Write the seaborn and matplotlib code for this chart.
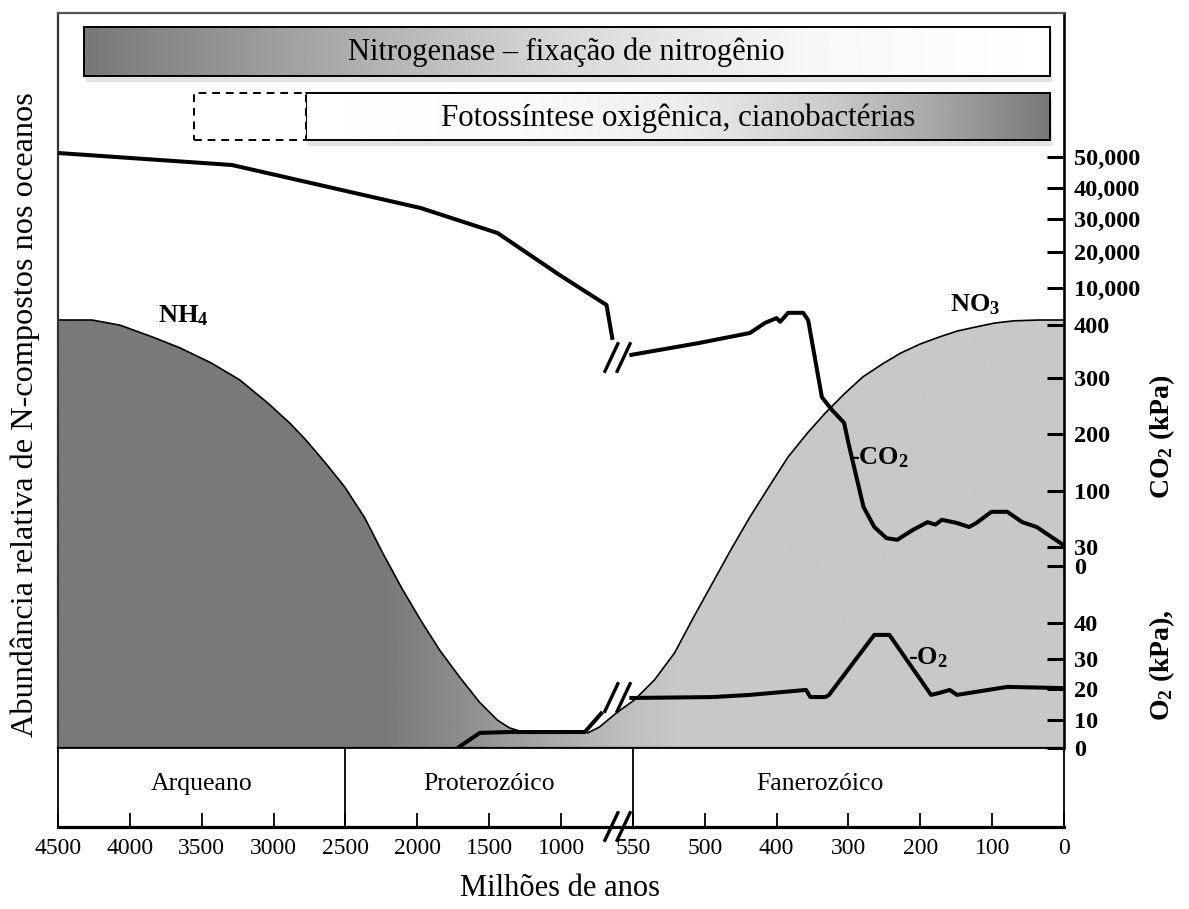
import numpy as np
import matplotlib
matplotlib.use("Agg")
import matplotlib.pyplot as plt
import seaborn as sns
from matplotlib.patches import Rectangle
from matplotlib.path import Path

# ---------------- data ----------------
age_ticks = [4500, 4000, 3500, 3000, 2500, 2000, 1500, 1000, 550, 500, 400, 300, 200, 100, 0]
age_tick_labels = [str(a) for a in age_ticks]

eras = ["Arqueano", "Proterozóico", "Fanerozóico"]
era_bounds = [4500, 2500, 550, 0]
era_label_ages = [3500, 1500, 340]

# relative abundance of N compounds (0..1)
nh4_age = [4500, 4264, 4069, 3840, 3652, 3436, 3235, 3040, 2887, 2776, 2644, 2505, 2366,
           2241, 2109, 1977, 1845, 1706, 1567, 1442, 1358, 1254, 1115]
nh4_abund = [1.00, 1.00, 0.988, 0.960, 0.935, 0.900, 0.860, 0.806, 0.759, 0.720, 0.668, 0.610,
             0.538, 0.456, 0.374, 0.299, 0.229, 0.166, 0.107, 0.065, 0.047, 0.036, 0.035]

no3_age = [834, 759, 653, 549, 535, 521, 508, 489, 463, 437, 410, 384, 357, 332, 306, 280,
           253, 227, 200, 174, 149, 122, 96, 70, 35, 0]
no3_abund = [0.035, 0.049, 0.082, 0.112, 0.159, 0.222, 0.304, 0.386, 0.465, 0.540, 0.612,
             0.680, 0.736, 0.783, 0.827, 0.867, 0.897, 0.923, 0.944, 0.960, 0.974, 0.984,
             0.993, 0.998, 1.0, 1.0]

# CO2 (kPa)
co2_ticks = [0, 30, 100, 200, 300, 400, 10000, 20000, 30000, 40000, 50000]
co2_tick_labels = ["0", "30", "100", "200", "300", "400",
                   "10,000", "20,000", "30,000", "40,000", "50,000"]
co2_early_age = [4500, 3290, 1977, 1442, 1010, 715, 677]
co2_early = [51290, 47420, 33550, 25760, 13610, 5590, 372]
co2_late_age = [572, 504, 437, 416, 400, 395, 384, 363, 356, 337, 323, 306, 300, 279,
                264, 247, 232, 211, 190, 179, 170, 149, 132, 122, 101, 79, 58, 38, 0]
co2_late = [343, 366, 385, 404, 413, 406, 423, 423, 409, 266, 243, 220, 184, 80,
            55, 41, 39, 51, 61, 58, 64, 60, 55, 60, 74, 74, 61, 55, 32]

# O2 (kPa)
o2_ticks = [0, 10, 20, 30, 40]
o2_tick_labels = ["0", "10", "20", "30", "40"]
o2_early_age = [1720, 1565, 1358, 851, 740]
o2_early = [0, 5.4, 5.7, 5.7, 12.6]
o2_late_age = [572, 489, 437, 359, 353, 332, 327, 264, 243, 185, 174, 159, 149, 79, 0]
o2_late = [17.1, 17.4, 18.1, 19.7, 17.4, 17.4, 18.1, 36.7, 36.7, 18.1, 18.7, 19.7, 18.1, 20.7, 20.3]

# time spans of the top bars (Ma)
nitrogenase_span = (4320, 20)
photosynthesis_span = (2776, 20)
photosynthesis_uncertain_span = (3555, 2776)

break_age = 650
co2_break_value = 340
o2_break_value = 17.4

# ---------------- layout / geometry (pixels of the 1189x909 layout) ----------------
W, H = 1189, 909
AX_L, AX_R, AX_T, AX_B = 58, 1064, 13, 748
ERA_B = 827
PLOT_H = AX_B - AX_T
ABUND_ONE_H = 428
co2_tick_h = [182, 201, 257, 314, 370, 423, 460, 496, 529, 560, 591]
o2_tick_h = [0, 28, 59, 89, 125]


def piecewise(xp, fp):
    xp = np.asarray(xp, float)
    fp = np.asarray(fp, float)
    o = np.argsort(xp)
    xp, fp = xp[o], fp[o]
    s0 = (fp[1] - fp[0]) / (xp[1] - xp[0])
    s1 = (fp[-1] - fp[-2]) / (xp[-1] - xp[-2])

    def f(x):
        x = np.asarray(x, dtype=float)
        y = np.interp(x, xp, fp)
        y = np.where(x < xp[0], fp[0] + (x - xp[0]) * s0, y)
        y = np.where(x > xp[-1], fp[-1] + (x - xp[-1]) * s1, y)
        return y
    return f


# increasing position with age (axis is then inverted: 4500 on the left)
u_pos = np.arange(len(age_ticks))[::-1].astype(float)
x_fwd = piecewise(age_ticks, u_pos)
x_inv = piecewise(u_pos, age_ticks)

sns.set_theme(style="white")
plt.rcParams["font.family"] = ["Liberation Serif", "DejaVu Serif"]
plt.rcParams["mathtext.fontset"] = "custom"
plt.rcParams["mathtext.rm"] = "Liberation Serif"
plt.rcParams["mathtext.bf"] = "Liberation Serif:bold"
plt.rcParams["mathtext.it"] = "Liberation Serif:italic"
plt.rcParams["text.color"] = "black"

fig = plt.figure(figsize=(W / 100, H / 100), dpi=100)
fig.patch.set_facecolor("white")


def fx(px):
    return px / W


def fy(py):
    return 1 - py / H


ax = fig.add_axes([fx(AX_L), fy(AX_B), (AX_R - AX_L) / W, PLOT_H / H])
ax.set_xscale("function", functions=(x_fwd, x_inv))
ax.set_facecolor("white")

ax_era = fig.add_axes([fx(AX_L), fy(ERA_B), (AX_R - AX_L) / W, (ERA_B - AX_B) / H], sharex=ax)


def hgrad(sx, sv, n=600):
    xs = np.linspace(0, 1, n)
    return np.interp(xs, sx, sv)[np.newaxis, :]


# ---- N-compound envelope with horizontal gradient ----
env_x = [4500] + nh4_age + no3_age + [0]
env_y = [0] + nh4_abund + no3_abund + [0]
env_patch = ax.fill(env_x, env_y, facecolor="none", edgecolor="none")[0]
im = ax.imshow(hgrad([0, 0.325, 0.38, 0.439, 0.499, 0.559, 0.618, 1],
                     [0.478, 0.478, 0.53, 0.60, 0.67, 0.74, 0.785, 0.785]),
               cmap="gray", vmin=0, vmax=1, extent=(0, 1, 0, 1),
               transform=ax.transAxes, aspect="auto", zorder=0.5,
               interpolation="bilinear")
im.set_clip_path(env_patch)

sns.lineplot(x=nh4_age, y=nh4_abund, ax=ax, color="black", lw=1.2, sort=False, estimator=None,
             solid_joinstyle="round")
sns.lineplot(x=no3_age, y=no3_abund, ax=ax, color="black", lw=1.2, sort=False, estimator=None,
             solid_joinstyle="round")

ax.text(3630, 1.01, r"$\mathbf{NH_4}$", ha="center", va="center", fontsize=19)
ax.text(124, 1.035, r"$\mathbf{NO_3}$", ha="center", va="center", fontsize=19)


# ---- top bars ----
def frac(age):
    return float((x_fwd(age) - x_fwd(4500)) / (x_fwd(0) - x_fwd(4500)))


def bar(span, y0, y1, stops_x, stops_v, dashed=False):
    x0, x1 = frac(span[0]), frac(span[1])
    if not dashed:
        ax.add_patch(Rectangle((x0 + 0.002, y0 - 0.008), x1 - x0, y1 - y0, transform=ax.transAxes,
                               facecolor="#e3e3e3", edgecolor="none", zorder=2.5))
        ax.imshow(hgrad(stops_x, stops_v), cmap="gray", vmin=0, vmax=1,
                  extent=(x0, x1, y0, y1), transform=ax.transAxes, aspect="auto",
                  zorder=3, interpolation="bilinear")
        ax.add_patch(Rectangle((x0, y0), x1 - x0, y1 - y0, transform=ax.transAxes,
                               facecolor="none", edgecolor="black", lw=1.4, zorder=3.5))
    else:
        ax.add_patch(Rectangle((x0, y0), x1 - x0, y1 - y0, transform=ax.transAxes,
                               facecolor="white", edgecolor="black", lw=1.4, ls=(0, (4, 3)),
                               zorder=3.5))
    return x0, x1


NY0, NY1 = (AX_B - 76) / PLOT_H, (AX_B - 27) / PLOT_H
PY0, PY1 = (AX_B - 140) / PLOT_H, (AX_B - 93) / PLOT_H
bar(nitrogenase_span, NY0, NY1, [0, 0.25, 0.5, 0.75, 1], [0.47, 0.66, 0.85, 0.97, 1.0])
bar(photosynthesis_span, PY0, PY1, [0, 0.3, 0.5, 0.7, 0.85, 1], [1.0, 0.98, 0.93, 0.8, 0.65, 0.47])
bar(photosynthesis_uncertain_span, PY0, PY1, None, None, dashed=True)
ax.text((566 - AX_L) / (AX_R - AX_L), (AX_B - 52) / PLOT_H, "Nitrogenase – fixação de nitrogênio",
        transform=ax.transAxes, ha="center", va="center", fontsize=22, zorder=5)
ax.text((678 - AX_L) / (AX_R - AX_L), (AX_B - 118) / PLOT_H, "Fotossíntese oxigênica, cianobactérias",
        transform=ax.transAxes, ha="center", va="center", fontsize=22.3, zorder=5)

# ---- gas axes ----
co2_fwd = piecewise(co2_ticks, co2_tick_h)
co2_inv = piecewise(co2_tick_h, co2_ticks)
co2b_fwd = piecewise(co2_ticks[:6], co2_tick_h[:6])
co2b_inv = piecewise(co2_tick_h[:6], co2_ticks[:6])
o2_fwd = piecewise(o2_ticks, o2_tick_h)
o2_inv = piecewise(o2_tick_h, o2_ticks)

ax_co2 = ax.twinx()
ax_co2b = ax.twinx()
ax_o2 = ax.twinx()
for a, (f, i) in zip([ax_co2, ax_co2b, ax_o2],
                     [(co2_fwd, co2_inv), (co2b_fwd, co2b_inv), (o2_fwd, o2_inv)]):
    a.set_yscale("function", functions=(f, i))
    for s in a.spines.values():
        s.set_visible(False)

lw_gas = 2.9
sns.lineplot(x=co2_early_age, y=co2_early, ax=ax_co2, color="black", lw=lw_gas,
             sort=False, estimator=None, solid_joinstyle="round", solid_capstyle="butt")
sns.lineplot(x=co2_late_age, y=co2_late, ax=ax_co2b, color="black", lw=lw_gas,
             sort=False, estimator=None, solid_joinstyle="round", solid_capstyle="butt")
sns.lineplot(x=o2_early_age, y=o2_early, ax=ax_o2, color="black", lw=lw_gas,
             sort=False, estimator=None, solid_joinstyle="round", solid_capstyle="butt")
sns.lineplot(x=o2_late_age, y=o2_late, ax=ax_o2, color="black", lw=lw_gas,
             sort=False, estimator=None, solid_joinstyle="round", solid_capstyle="butt")

break_path = Path([(-0.87, -1), (0.07, 1), (-0.07, -1), (0.87, 1)],
                  [Path.MOVETO, Path.LINETO, Path.MOVETO, Path.LINETO])
ax_co2b.plot([break_age], [co2_break_value], marker=break_path, ms=22, mew=2.4,
             mfc="none", mec="black", ls="none", clip_on=False, zorder=6)
ax_o2.plot([break_age], [o2_break_value], marker=break_path, ms=22, mew=2.4,
           mfc="none", mec="black", ls="none", clip_on=False, zorder=6)

ax_co2b.text(298, 158, r"-CO$_\mathbf{2}$", ha="left", va="center", fontsize=19, fontweight="bold")
ax_o2.text(217, 30.3, r"-O$_\mathbf{2}$", ha="left", va="center", fontsize=19, fontweight="bold")

ax_co2.set_yticks(co2_ticks, labels=co2_tick_labels, fontweight="bold", fontsize=17.5)
ax_o2.set_yticks(o2_ticks, labels=o2_tick_labels, fontweight="bold", fontsize=17.5)
for a in (ax_co2, ax_o2):
    a.tick_params(axis="y", which="major", right=True, left=False, labelright=True,
                  labelleft=False, direction="in", length=12, width=2.2, pad=7,
                  color="black", labelcolor="black")
    a.tick_params(axis="y", which="minor", right=False, left=False)
    a.set_ylabel("")
ax_co2b.tick_params(axis="y", which="both", right=False, left=False, labelright=False, labelleft=False)
ax_co2b.set_ylabel("")

ax_co2.set_ylim(float(co2_inv(0)), float(co2_inv(PLOT_H)))
ax_co2b.set_ylim(float(co2b_inv(0)), float(co2b_inv(PLOT_H)))
ax_o2.set_ylim(float(o2_inv(0)), float(o2_inv(PLOT_H)))

# ---- main axes frame ----
ax.tick_params(left=False, bottom=False, right=False, top=False,
               labelleft=False, labelbottom=False)
ax.set_xlabel("")
ax.set_ylabel("")
ax.spines["left"].set_color("#333333")
ax.spines["left"].set_linewidth(1.6)
ax.spines["top"].set_color("#555555")
ax.spines["top"].set_linewidth(1.6)
ax.spines["right"].set_color("black")
ax.spines["right"].set_linewidth(1.9)
ax.spines["bottom"].set_color("black")
ax.spines["bottom"].set_linewidth(1.6)

# ---- era box with time axis ----
ax_era.set_ylim(0, 1)
ax_era.set_facecolor("white")
for b in era_bounds[1:-1]:
    ax_era.axvline(b, color="black", lw=1.3)
for name, a in zip(eras, era_label_ages):
    ax_era.text(a, 0.54, name, ha="center", va="center", fontsize=18.5)
ax_era.set_xticks(age_ticks, labels=age_tick_labels, fontsize=17)
ax_era.tick_params(axis="x", bottom=True, top=False, direction="in", length=10,
                   width=1.3, pad=8, color="black", labelcolor="black")
ax_era.tick_params(axis="y", left=False, right=False, labelleft=False)
for k, s in ax_era.spines.items():
    s.set_color("black")
    s.set_linewidth(1.3)
ax_era.spines["bottom"].set_linewidth(2.3)
ax_era.plot([break_age], [0.01], marker=break_path, ms=22, mew=2.4,
            mfc="none", mec="black", ls="none", clip_on=False, zorder=6)

ax.set_xlim(4500, 0)
ax.set_ylim(0, PLOT_H / ABUND_ONE_H)

# ---- outer labels ----
fig.text(fx(25), fy(415), "Abundância relativa de N-compostos nos oceanos",
         rotation=90, ha="center", va="center", fontsize=23.2)
fig.text(fx(560), fy(888), "Milhões de anos", ha="center", va="center", fontsize=22)
fig.text(fx(1162), fy(437), r"CO$_\mathbf{2}$ (kPa)", rotation=90, ha="center", va="center",
         fontsize=20, fontweight="bold")
fig.text(fx(1162), fy(665), r"O$_\mathbf{2}$ (kPa),", rotation=90, ha="center", va="center",
         fontsize=20, fontweight="bold")

fig.savefig("out.png", dpi=100, facecolor="white")
